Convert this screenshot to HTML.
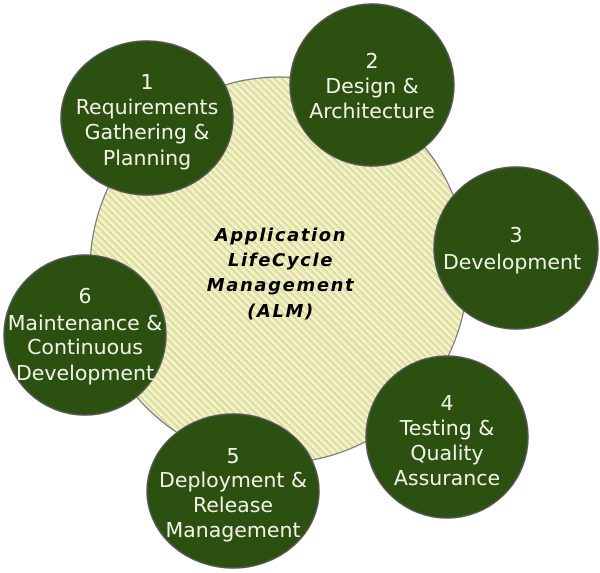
<!DOCTYPE html>
<html><head><meta charset="utf-8"><style>
html,body{margin:0;padding:0;background:#fff;}
svg{display:block;}
.w{font-family:"DejaVu Sans","Liberation Sans",sans-serif;font-size:20.5px;fill:#f2f2e8;text-anchor:middle;}
.c{font-family:"DejaVu Sans","Liberation Sans",sans-serif;font-size:18px;font-weight:bold;font-style:italic;fill:#000;text-anchor:middle;letter-spacing:1.6px;}
</style></head><body>
<svg width="600" height="573" viewBox="0 0 600 573" xmlns="http://www.w3.org/2000/svg">
<defs>
<pattern id="h" width="5" height="5" patternUnits="userSpaceOnUse" patternTransform="rotate(-45)">
<rect width="5" height="5" fill="#e6e6c8"/>
<rect width="1.5" height="5" fill="#ffffa0"/>
<rect x="3.5" width="1" height="5" fill="#cfcfb0"/>
</pattern>
</defs>
<ellipse cx="279" cy="270" rx="189" ry="193" fill="url(#h)" stroke="#777" stroke-width="1.2"/>
<g fill="#2c5010" stroke="#555" stroke-width="1.5">
<ellipse cx="147" cy="118" rx="86" ry="77"/>
<ellipse cx="372" cy="85" rx="82" ry="81"/>
<ellipse cx="516" cy="248" rx="82" ry="81"/>
<ellipse cx="447" cy="437" rx="81" ry="81"/>
<ellipse cx="233" cy="491" rx="86" ry="77"/>
<ellipse cx="85" cy="335" rx="81" ry="80"/>
</g>
<g class="w">
<text x="147" y="89">1</text><text x="147" y="114">Requirements</text><text x="147" y="139">Gathering &amp;</text><text x="147" y="165">Planning</text>
<text x="372" y="68">2</text><text x="372" y="93">Design &amp;</text><text x="372" y="118">Architecture</text>
<text x="516" y="242">3</text><text x="512" y="269">Development</text>
<text x="447" y="410">4</text><text x="447" y="435">Testing &amp;</text><text x="447" y="460">Quality</text><text x="447" y="485">Assurance</text>
<text x="233" y="463">5</text><text x="233" y="487">Deployment &amp;</text><text x="233" y="512">Release</text><text x="233" y="537">Management</text>
<text x="85" y="303">6</text><text x="85" y="330">Maintenance &amp;</text><text x="85" y="354">Continuous</text><text x="85" y="380">Development</text>
</g>
<g class="c">
<text x="281" y="241">Application</text>
<text x="281" y="266">LifeCycle</text>
<text x="281" y="291">Management</text>
<text x="281" y="317">(ALM)</text>
</g>
</svg>
</body></html>
